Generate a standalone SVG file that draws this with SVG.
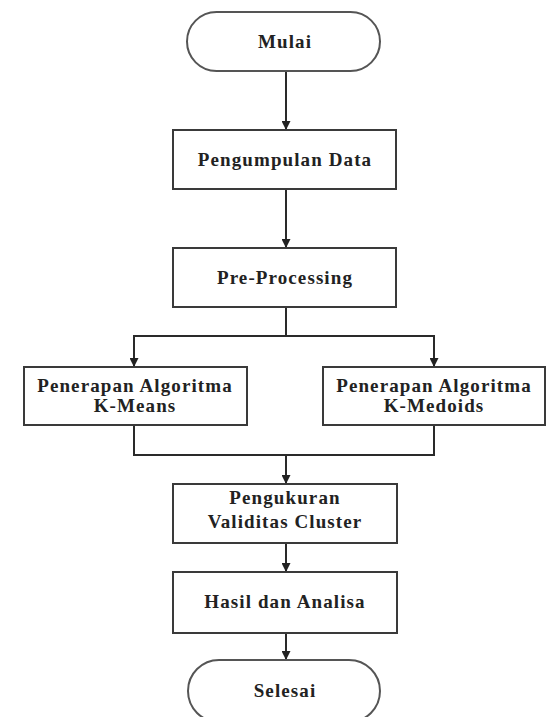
<svg xmlns="http://www.w3.org/2000/svg" width="546" height="717" viewBox="0 0 546 717">
<style>
.box{fill:#fff;stroke:#3a3a3a;stroke-width:2}
.term{fill:#fff;stroke:#555;stroke-width:2}
.t{font-family:"Liberation Serif","Times New Roman",serif;font-weight:bold;font-size:19px;letter-spacing:1.1px;fill:#222;text-anchor:middle}
.c{fill:none;stroke:#2a2a2a;stroke-width:2}
</style>
<defs>
<marker id="ah" viewBox="0 0 10 10" refX="10" refY="5" markerWidth="9" markerHeight="9" markerUnits="userSpaceOnUse" orient="auto">
<path d="M0,0 L10,5 L0,10 z" fill="#222"/>
</marker>
</defs>
<rect width="546" height="717" fill="#fff"/>
<g id="connectors">
<line class="c" x1="286" y1="71" x2="286" y2="130" marker-end="url(#ah)"/>
<line class="c" x1="286" y1="189" x2="286" y2="248" marker-end="url(#ah)"/>
<line class="c" x1="286" y1="307" x2="286" y2="336"/>
<polyline class="c" points="134,367 134,336 434,336 434,367" marker-end="url(#ah)"/>
<line class="c" x1="134" y1="336" x2="134" y2="367" marker-end="url(#ah)"/>
<polyline class="c" points="134,425 134,455 434,455 434,425"/>
<line class="c" x1="286" y1="455" x2="286" y2="484" marker-end="url(#ah)"/>
<line class="c" x1="286" y1="543" x2="286" y2="572" marker-end="url(#ah)"/>
<line class="c" x1="286" y1="633" x2="286" y2="660" marker-end="url(#ah)"/>
</g>
<g id="mulai">
<rect class="term" x="187" y="12" width="193" height="59" rx="29.5" ry="29.5"/>
<text class="t" x="285" y="48">Mulai</text>
</g>
<g id="pengumpulan">
<rect class="box" x="173" y="130" width="223" height="59"/>
<text class="t" x="285" y="166">Pengumpulan Data</text>
</g>
<g id="preprocessing">
<rect class="box" x="173" y="248" width="223" height="59"/>
<text class="t" x="285" y="284">Pre-Processing</text>
</g>
<g id="kmeans">
<rect class="box" x="24" y="367" width="223" height="58"/>
<text class="t" x="135" y="392">Penerapan Algoritma</text>
<text class="t" x="135" y="412">K-Means</text>
</g>
<g id="kmedoids">
<rect class="box" x="323" y="367" width="222" height="58"/>
<text class="t" x="434" y="392">Penerapan Algoritma</text>
<text class="t" x="434" y="412">K-Medoids</text>
</g>
<g id="pengukuran">
<rect class="box" x="173" y="484" width="224" height="59"/>
<text class="t" x="285" y="504">Pengukuran</text>
<text class="t" x="285" y="528">Validitas Cluster</text>
</g>
<g id="hasil">
<rect class="box" x="173" y="572" width="224" height="61"/>
<text class="t" x="285" y="608">Hasil dan Analisa</text>
</g>
<g id="selesai">
<rect class="term" x="188" y="660" width="192" height="62" rx="31" ry="31"/>
<text class="t" x="285" y="697">Selesai</text>
</g>
</svg>
